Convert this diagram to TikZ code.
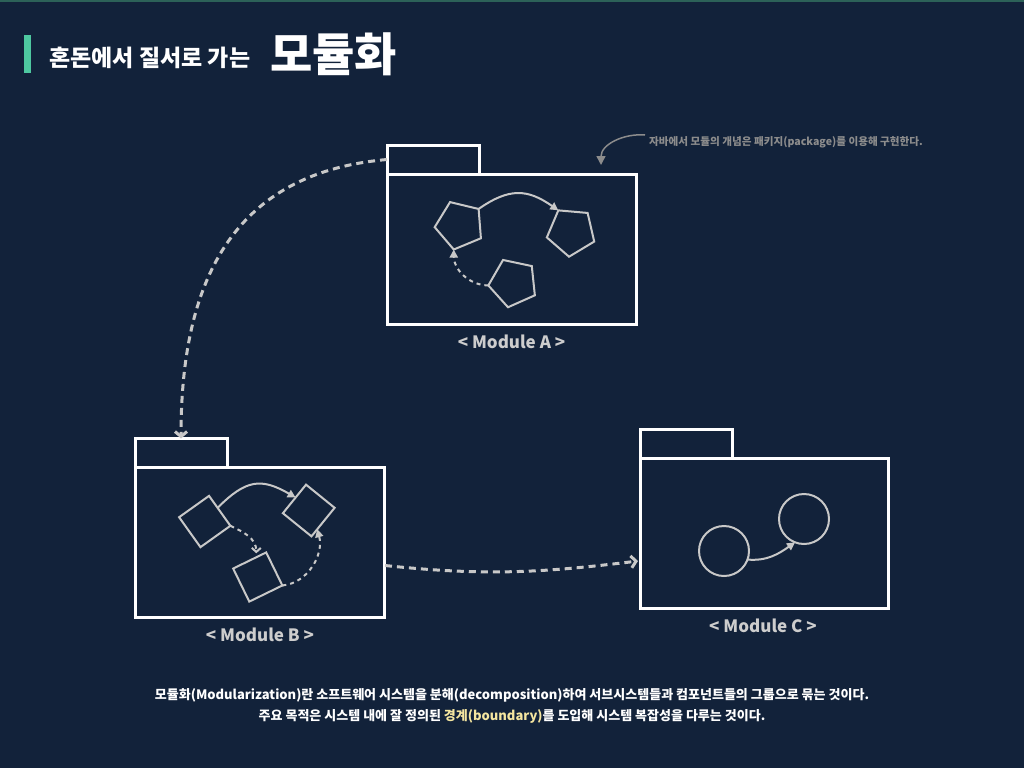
\documentclass[tikz,border=0pt]{standalone}
\usepackage{fontspec}
\setmainfont{Noto Sans CJK KR}
\usetikzlibrary{shapes.geometric,arrows.meta,calc}
\definecolor{bg}{RGB}{18,34,58}
\definecolor{topline}{RGB}{44,98,88}
\definecolor{accent}{RGB}{78,200,160}
\definecolor{shapec}{RGB}{200,200,200}
\definecolor{lbl}{RGB}{205,205,205}
\definecolor{notec}{RGB}{140,140,140}
\definecolor{hl}{RGB}{245,230,160}
\tikzset{
 modbox/.style={draw=white, line width=3pt, fill=bg, inner sep=0pt, outer sep=0pt, minimum width=249pt, minimum height=150pt},
 tabbox/.style={draw=white, line width=3pt, fill=bg, inner sep=0pt, outer sep=0pt, minimum width=92pt, minimum height=29pt, anchor=south west},
 pent/.style={regular polygon, regular polygon sides=5, draw=shapec, line width=2pt, minimum size=50pt, inner sep=0pt, outer sep=0pt},
 sq/.style={regular polygon, regular polygon sides=4, draw=shapec, line width=2pt, minimum size=52pt, inner sep=0pt, outer sep=0pt},
 circ/.style={circle, draw=shapec, line width=2pt, minimum size=50pt, inner sep=0pt, outer sep=0pt},
 solidarr/.style={draw=shapec, line width=2pt, -{Triangle[length=8pt,width=8pt]}},
 dasharr/.style={draw=shapec, line width=2pt, dash pattern=on 4pt off 4pt, -{Triangle[length=8pt,width=8pt]}},
 barbarr/.style={draw=shapec, line width=2pt, dash pattern=on 4pt off 4pt, -{Straight Barb[length=4pt,width=9pt]}},
 bigarr/.style={draw=shapec, line width=3pt, dash pattern=on 7pt off 5pt, -{Straight Barb[length=5pt,width=12pt]}},
 notearr/.style={draw=notec, line width=1.5pt, -{Triangle[length=9pt,width=9pt]}},
 modlabel/.style={text=lbl, font=\bfseries\fontsize{17}{20}\selectfont},
 bodytext/.style={text=white, font=\bfseries\fontsize{13}{15}\selectfont},
}
\begin{document}
\begin{tikzpicture}[x=1pt,y=-1pt]
\useasboundingbox (0,0) rectangle (1024,768);
\fill[bg] (0,0) rectangle (1024,768);
\fill[topline] (0,0) rectangle (1024,2);
% title
\fill[accent] (24,35) rectangle (31,73);
\node[anchor=west, text=white, font=\bfseries\fontsize{23}{26}\selectfont, inner sep=0pt] (t1) at (49,58) {혼돈에서 질서로 가는};
\node[anchor=west, text=white, font=\bfseries\fontsize{46}{50}\selectfont, inner sep=0pt] (t2) at (270,54) {모듈화};

% Module A
\node[modbox] (Am) at (511.5,249) {};
\node[tabbox] (At) at (Am.north west) {};
\draw[white, line width=3pt] (Am.north west) -- (Am.north east);
\node[modlabel] (Al) at (511.5,342) {< Module A >};
\node[pent, rotate=22.5] (p1) at (459.6,225.2) {};
\node[pent, rotate=31] (p2) at (571.2,231.8) {};
\node[pent, rotate=24] (p3) at (513.2,282.8) {};
\draw[solidarr] (p1.corner 5) to[out=35, in=145, looseness=1.2] (p2.corner 1);
\draw[dasharr] (p3.corner 2) to[out=180, in=-90] (p1.corner 3);

% Module B
\node[modbox] (Bm) at (259.5,542.5) {};
\node[tabbox] (Bt) at (Bm.north west) {};
\draw[white, line width=3pt] (Bm.north west) -- (Bm.north east);
\node[modlabel] (Bl) at (260,635) {< Module B >};
\node[sq, rotate=35.5] (s1) at (204.75,521.5) {};
\node[sq, rotate=51] (s2) at (308.75,510.5) {};
\node[sq, rotate=26] (s3) at (257.75,577) {};
\draw[solidarr] ($(s1.corner 1)!0.4!(s1.corner 4)$) to[out=45, in=150, looseness=1.3] ($(s2.corner 1)!0.45!(s2.corner 2)$);
\draw[barbarr] (s1.corner 4) to[out=-25, in=90] ($(s3.corner 1)!0.3!(s3.corner 2)+(0,-4)$);
\draw[dasharr] (s3.corner 4) to[out=5, in=-75] ($(s2.corner 3)!0.25!(s2.corner 4)$);

% Module C
\node[modbox, minimum width=248pt] (Cm) at (764,533) {};
\node[tabbox] (Ct) at (Cm.north west) {};
\draw[white, line width=3pt] (Cm.north west) -- (Cm.north east);
\node[modlabel] (Cl) at (763,626) {< Module C >};
\node[circ] (c1) at (724,551) {};
\node[circ] (c2) at (804,519) {};
\draw[solidarr] (c1.-20) to[out=-5, in=-145] (c2.-111);

% big connectors
\draw[bigarr] (At.west) to[out=185, in=90, looseness=1.15] (Bt.north);
\draw[bigarr] ($(Bm.east)+(1,23)$) to[out=-6, in=187] ($(Cm.west)+(-2,28)$);

% note
\node[anchor=west, text=notec, font=\bfseries\fontsize{10.6}{12}\selectfont, inner sep=0pt] (note) at (649,142) {자바에서 모듈의 개념은 패키지(package)를 이용해 구현한다.};
\coordinate (nt) at (601,165);
\draw[notearr] ($(note.west)+(-4,-7)$) to[out=175, in=90] (nt);

% bottom text
\node[bodytext] (b1) at (512,695) {모듈화(Modularization)란 소프트웨어 시스템을 분해(decomposition)하여 서브시스템들과 컴포넌트들의 그룹으로 묶는 것이다.};
\node[bodytext] (b2) at (512,716) {주요 목적은 시스템 내에 잘 정의된 \textcolor{hl}{경계(boundary)}를 도입해 시스템 복잡성을 다루는 것이다.};
\end{tikzpicture}
\end{document}
